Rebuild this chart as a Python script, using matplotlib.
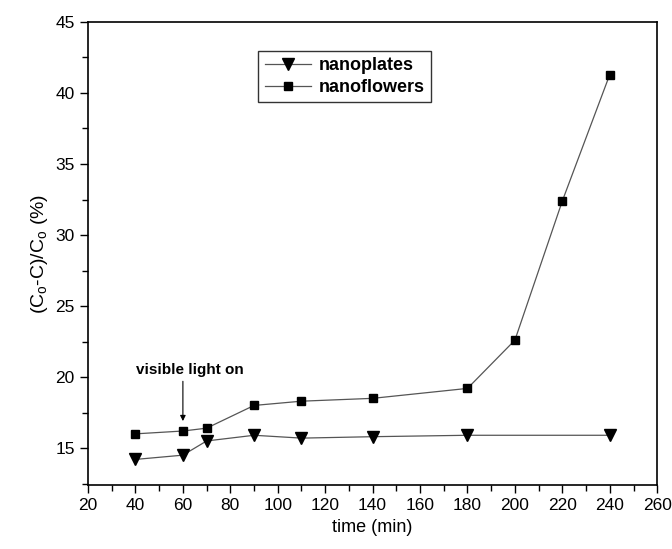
import matplotlib
matplotlib.use("Agg")
from matplotlib import pyplot as plt
from matplotlib.ticker import MultipleLocator

plt.rcParams['font.family'] = ['Liberation Sans', 'DejaVu Sans']
plt.rcParams['mathtext.default'] = 'regular'

time_plates = [40, 60, 70, 90, 110, 140, 180, 240]
nanoplates = [14.2, 14.5, 15.5, 15.9, 15.7, 15.8, 15.9, 15.9]

time_flowers = [40, 60, 70, 90, 110, 140, 180, 200, 220, 240]
nanoflowers = [16.0, 16.2, 16.4, 18.0, 18.3, 18.5, 19.2, 22.6, 32.4, 41.3]

fig = plt.figure(figsize=(6.72, 5.49), dpi=100)
ax = fig.add_axes([0.131, 0.1166, 0.847, 0.8434])

ax.plot(time_plates, nanoplates, color='#555555', lw=0.9, marker='v',
        markersize=8, markerfacecolor='black', markeredgecolor='black',
        label='nanoplates')
ax.plot(time_flowers, nanoflowers, color='#555555', lw=0.9, marker='s',
        markersize=6, markerfacecolor='black', markeredgecolor='black',
        label='nanoflowers')

ax.set_xlim(20, 260)
ax.set_ylim(12.4, 45)
ax.xaxis.set_major_locator(MultipleLocator(20))
ax.xaxis.set_minor_locator(MultipleLocator(10))
ax.yaxis.set_major_locator(MultipleLocator(5))
ax.yaxis.set_minor_locator(MultipleLocator(2.5))
ax.tick_params(axis='both', which='major', direction='out', length=6,
               width=1, labelsize=12.5)
ax.tick_params(axis='both', which='minor', direction='out', length=4, width=1)
for s in ax.spines.values():
    s.set_linewidth(1.2)

ax.set_xlabel('time (min)', fontsize=13)
ax.set_ylabel(r'(C$_o$-C)/C$_o$ (%)', fontsize=14)

ax.text(63, 20.0, 'visible light on', ha='center', va='bottom',
        fontsize=11, fontweight='bold')
ax.annotate('', xy=(60, 16.9), xytext=(60, 19.7),
            arrowprops=dict(arrowstyle='-|>', color='black', lw=0.8,
                            shrinkA=0, shrinkB=0, mutation_scale=8))

leg = ax.legend(loc='upper left', bbox_to_anchor=(0.299, 0.937),
                prop={'weight': 'bold', 'size': 13}, frameon=True,
                fancybox=False, edgecolor='black', handlelength=2.6,
                borderpad=0.35, labelspacing=0.25, handletextpad=0.4,
                borderaxespad=0)
leg.get_frame().set_linewidth(1.0)

plt.savefig('out.png', dpi=100)
